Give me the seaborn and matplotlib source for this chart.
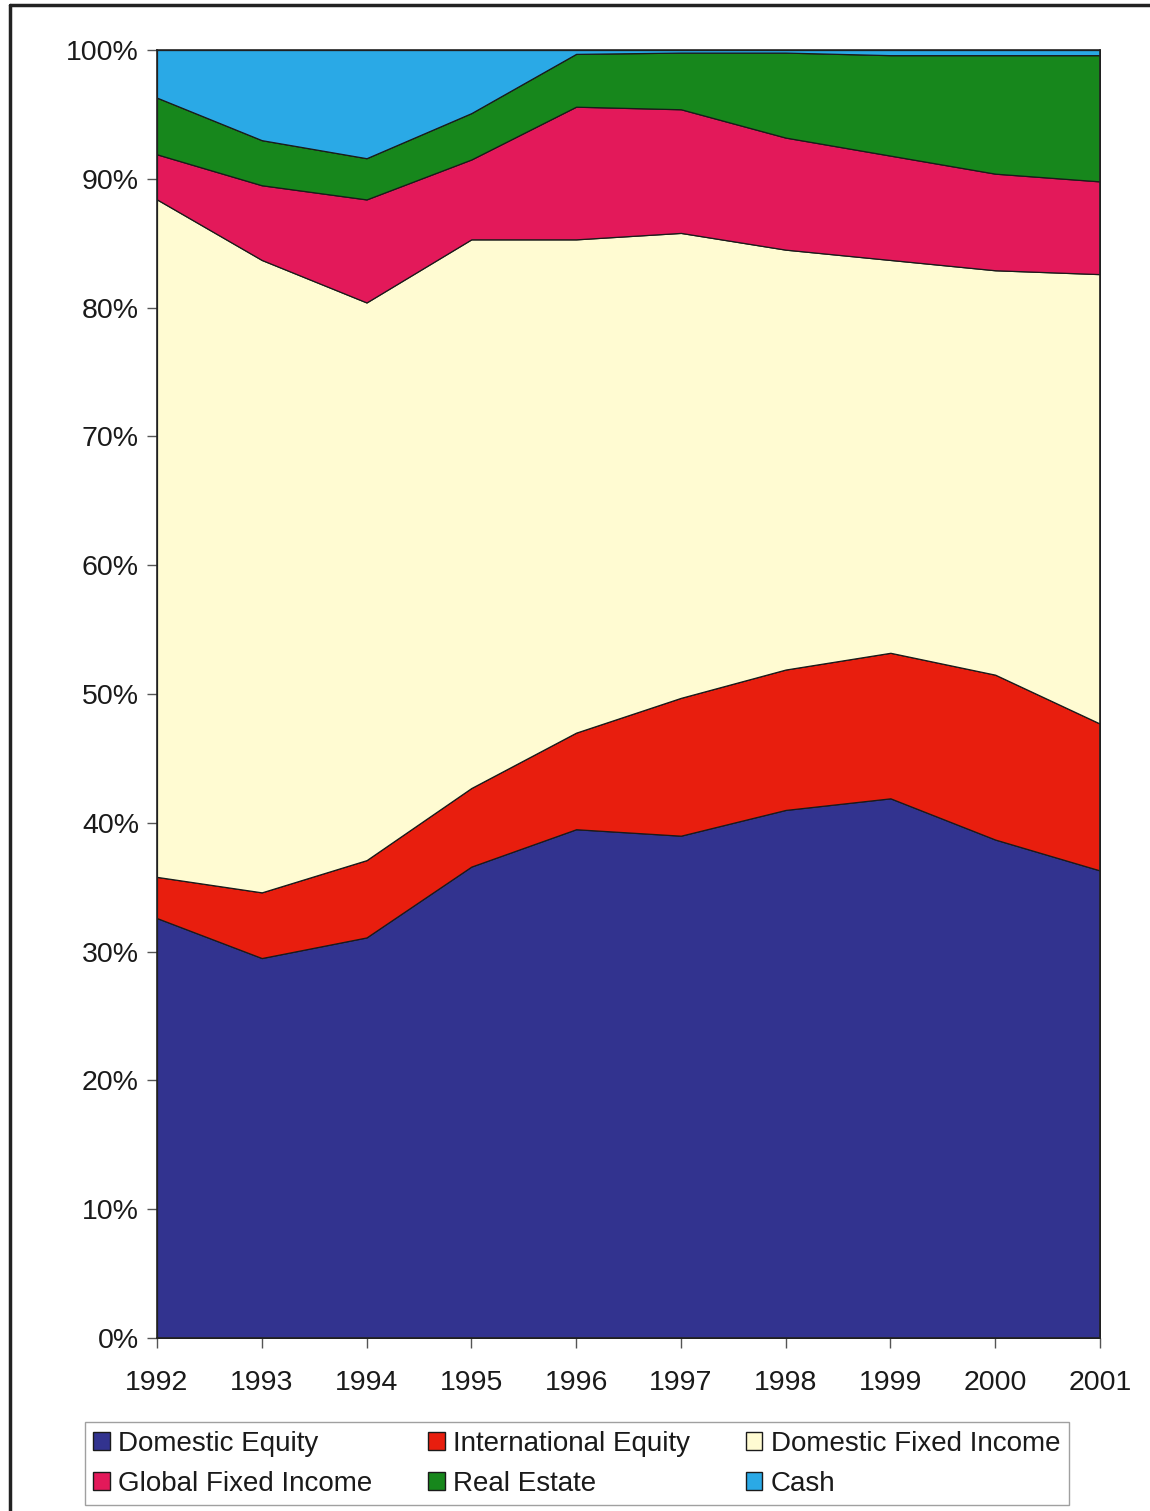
import matplotlib
matplotlib.use("Agg")
import matplotlib.pyplot as plt
from matplotlib.patches import Patch
from matplotlib.lines import Line2D
from matplotlib.ticker import FuncFormatter
import seaborn as sns

# Asset allocation by year (percent of portfolio)
years = [1992, 1993, 1994, 1995, 1996, 1997, 1998, 1999, 2000, 2001]
domestic_equity = [32.6, 29.5, 31.1, 36.6, 39.5, 39.0, 41.0, 41.9, 38.7, 36.3]
international_equity = [3.2, 5.1, 6.0, 6.1, 7.5, 10.7, 10.9, 11.3, 12.8, 11.4]
domestic_fixed_income = [52.6, 49.1, 43.3, 42.6, 38.3, 36.1, 32.6, 30.5, 31.4, 34.9]
global_fixed_income = [3.5, 5.8, 8.0, 6.2, 10.3, 9.6, 8.7, 8.1, 7.5, 7.2]
real_estate = [4.4, 3.5, 3.2, 3.6, 4.1, 4.4, 6.6, 7.8, 9.2, 9.8]
cash = [3.7, 7.0, 8.4, 4.9, 0.3, 0.2, 0.2, 0.4, 0.4, 0.4]

labels = ["Domestic Equity", "International Equity", "Domestic Fixed Income",
          "Global Fixed Income", "Real Estate", "Cash"]
colors = ["#32338F", "#E81E0E", "#FFFBD2", "#E3195A", "#17871C", "#2AA9E6"]
series = [domestic_equity, international_equity, domestic_fixed_income,
          global_fixed_income, real_estate, cash]

sns.set_theme(style="white", rc={
    "xtick.bottom": True, "ytick.left": True,
    "xtick.major.size": 7, "ytick.major.size": 7,
    "xtick.color": "#555555", "ytick.color": "#555555",
})
plt.rcParams["font.family"] = ["Liberation Sans", "DejaVu Sans"]

fig = plt.figure(figsize=(11.5, 15.11), dpi=100)
ax = fig.add_axes([0.1365, 0.1145, 0.82, 0.8524])

ax.stackplot(years, *series, colors=colors, labels=labels,
             edgecolor="#1a1a1a", linewidth=0.9)

ax.set_xlim(years[0], years[-1])
ax.set_ylim(0, 100)
ax.set_xticks(years)
ax.set_yticks(range(0, 101, 10))
ax.yaxis.set_major_formatter(FuncFormatter(lambda v, p: f"{int(v)}%"))
ax.tick_params(axis="x", labelsize=20.5, labelcolor="#1a1a1a", pad=16, width=1)
ax.tick_params(axis="y", labelsize=20.5, labelcolor="#1a1a1a", pad=6, width=1)
for side in ["left", "bottom", "right", "top"]:
    ax.spines[side].set_color("#222222")
    ax.spines[side].set_linewidth(1.2)

# Legend laid out row by row in three columns
order = [0, 3, 1, 4, 2, 5]
handles = [Patch(facecolor=colors[i], edgecolor="#1a1a1a", linewidth=1) for i in order]
leg = fig.legend(handles, [labels[i] for i in order], ncol=3,
                 loc="lower left", bbox_to_anchor=(85 / 1150, 1 - 1505 / 1511),
                 fontsize=20, frameon=True, fancybox=False, edgecolor="#888888",
                 handlelength=0.6, handleheight=0.6, handletextpad=0.3,
                 columnspacing=2.0, labelspacing=0.5, borderpad=0.3,
                 borderaxespad=0)
leg.get_frame().set_linewidth(1.0)
for t in leg.get_texts():
    t.set_color("#1a1a1a")

# Page frame on the left and top edges
fig.add_artist(Line2D([10 / 1150, 10 / 1150], [0, 1 - 5 / 1511],
                      transform=fig.transFigure, color="#222222", linewidth=2.5))
fig.add_artist(Line2D([10 / 1150, 1], [1 - 5 / 1511, 1 - 5 / 1511],
                      transform=fig.transFigure, color="#222222", linewidth=2.5))

fig.savefig("out.png", dpi=100, facecolor="white")
